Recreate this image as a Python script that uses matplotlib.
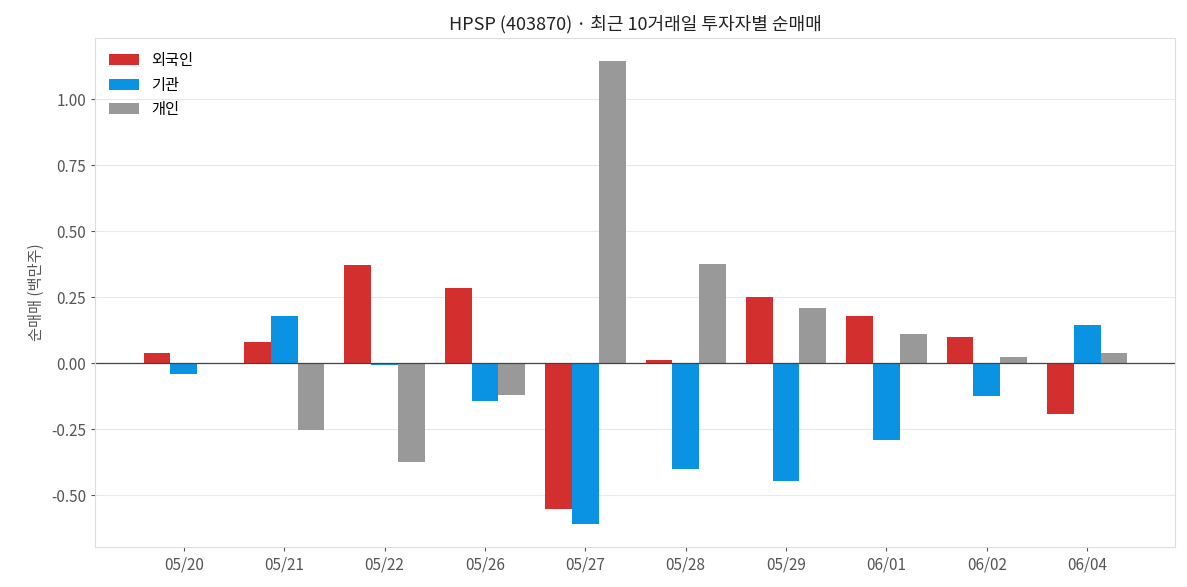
import matplotlib.pyplot as plt
import numpy as np

plt.rcParams['font.family'] = ['Noto Sans CJK KR', 'DejaVu Sans']

dates = ['05/20', '05/21', '05/22', '05/26', '05/27', '05/28', '05/29', '06/01', '06/02', '06/04']
foreign = [0.038, 0.080, 0.371, 0.284, -0.553, 0.011, 0.250, 0.178, 0.098, -0.193]
institution = [-0.042, 0.178, -0.008, -0.144, -0.610, -0.400, -0.447, -0.292, -0.125, 0.144]
individual = [0.0, -0.254, -0.375, -0.121, 1.144, 0.375, 0.208, 0.110, 0.023, 0.038]

fig, ax = plt.subplots(figsize=(11.87, 5.87), dpi=100)
fig.subplots_adjust(left=0.08, right=0.99, top=0.935, bottom=0.068)

x = np.arange(len(dates))
w = 0.267
ax.bar(x - w, foreign, w, color='#d32f2f', label='외국인')
ax.bar(x, institution, w, color='#0a92e3', label='기관')
ax.bar(x + w, individual, w, color='#999999', label='개인')

ax.axhline(0, color='#444444', linewidth=0.9)
ax.set_xticks(x)
ax.set_xticklabels(dates)
ax.set_xlim(-0.886, 9.876)
ax.set_ylim(-0.697, 1.231)
ax.set_yticks([-0.5, -0.25, 0, 0.25, 0.5, 0.75, 1.0])
ax.yaxis.set_major_formatter(plt.FuncFormatter(lambda v, p: f'{v:.2f}'))
ax.grid(axis='y', color='#e8e8e8', linewidth=0.8)
ax.set_axisbelow(True)
for s in ax.spines.values():
    s.set_color('#dddddd')
ax.tick_params(colors='#555555', labelsize=11, length=3)
ax.tick_params(axis='x', colors='#555555')
ax.set_ylabel('순매매 (백만주)', color='#555555', fontsize=11)
ax.set_title('HPSP (403870) · 최근 10거래일 투자자별 순매매', fontsize=13, color='#222222')
ax.legend(loc='upper left', frameon=False, fontsize=11)

fig.savefig('out.png')
